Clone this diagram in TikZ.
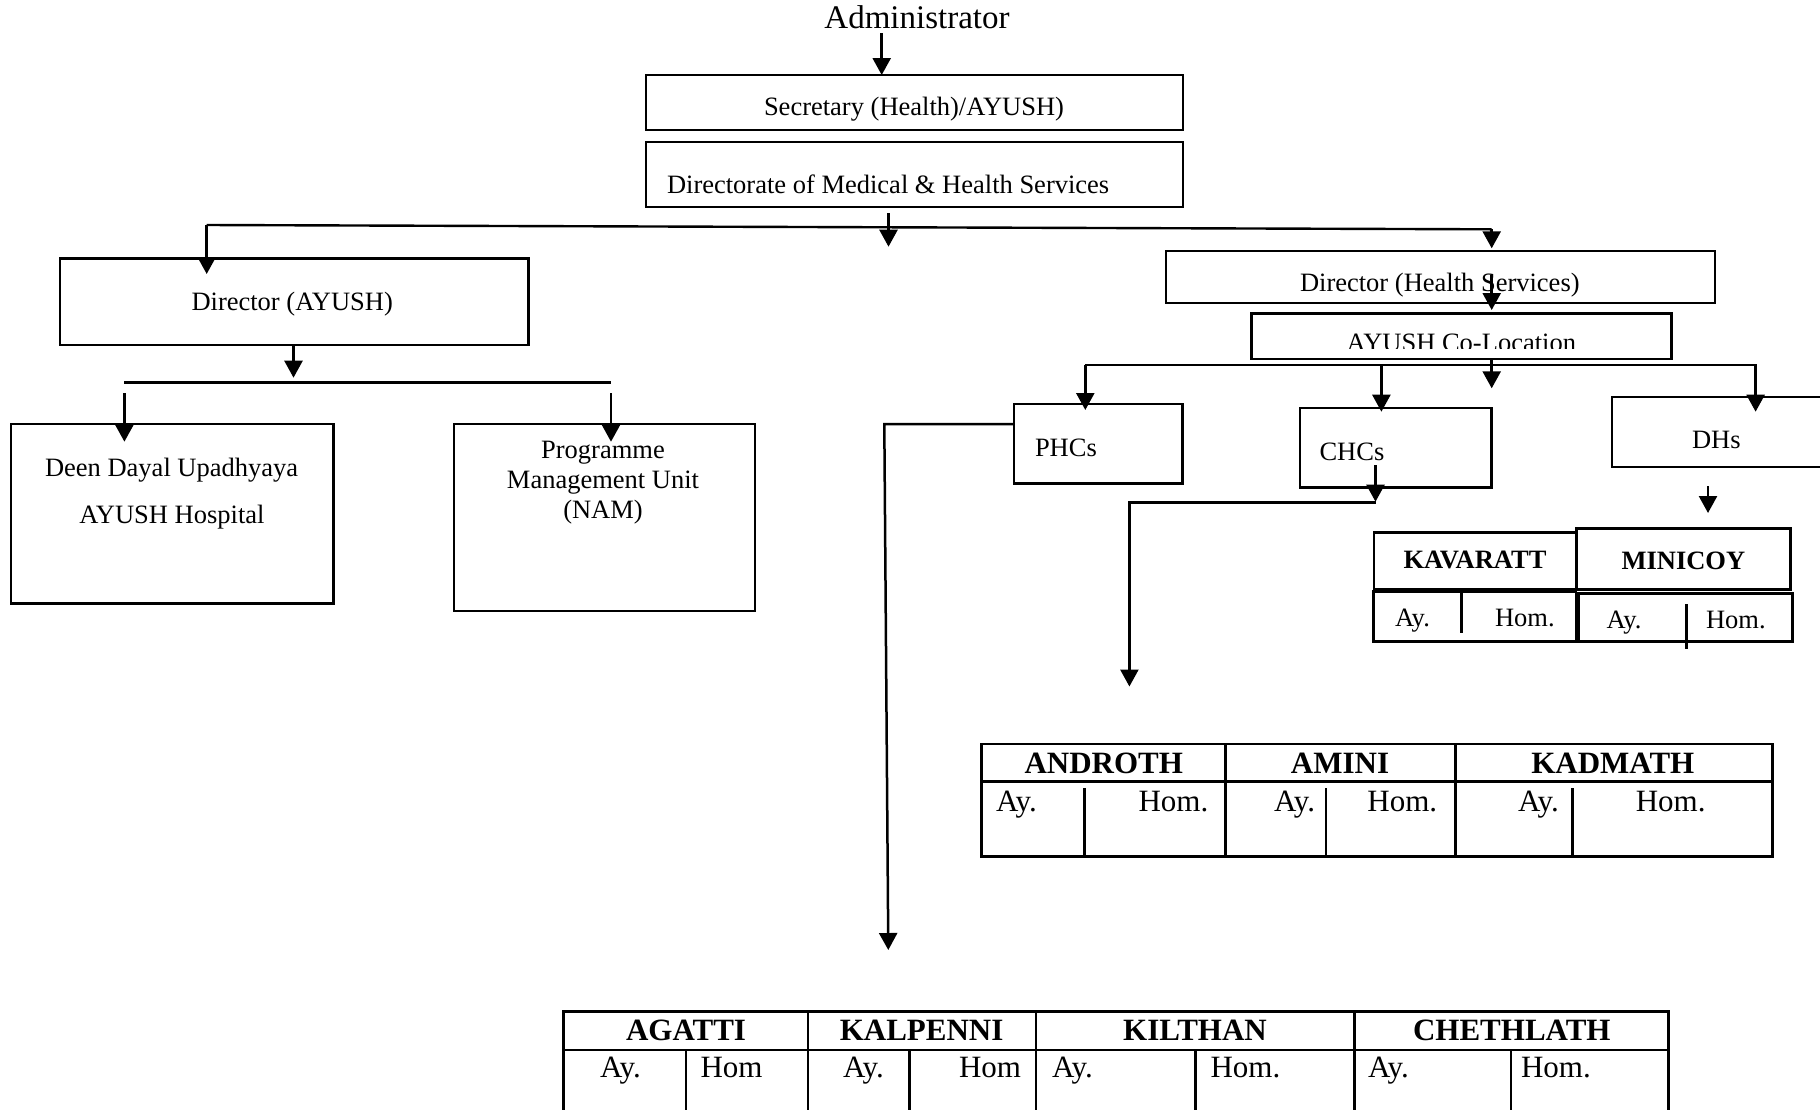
\documentclass[tikz,border=0pt]{standalone}
\usepackage{fontspec}
\setmainfont{Liberation Serif}
\usetikzlibrary{arrows.meta}
\newcommand\bxnode[5]{\node[bx, minimum width={#4-#2}, minimum height={#5-#3}] (#1) at ({(#2+#4)/2},{(#3+#5)/2}) {};}
\begin{document}
\begin{tikzpicture}[x=1pt,y=-1pt,
  ln/.style={line width=2.4pt},
  tl/.style={line width=2.8pt},
  arr/.style={line width=2.5pt,-{Triangle[width=18pt,length=17pt]}},
  txt/.style={inner sep=0pt, outer sep=0pt, font=\fontsize{26.5}{30}\selectfont},
  txtb/.style={inner sep=0pt, outer sep=0pt, font=\fontsize{26.5}{30}\selectfont\bfseries},
  big/.style={inner sep=0pt, outer sep=0pt, font=\fontsize{31}{36}\selectfont},
  bigb/.style={inner sep=0pt, outer sep=0pt, font=\fontsize{31}{36}\selectfont\bfseries},
  bx/.style={draw, line width=2.4pt, inner sep=0pt, outer sep=0pt}
]
\useasboundingbox (0,0) rectangle (1820,1109);
\fill[white] (0,0) rectangle (1820,1109);
\clip (0,0) rectangle (1820,1109);

% ---------- boxes ----------
\bxnode{sec}{646}{75}{1183}{130}
\bxnode{dir}{646}{141.7}{1183}{206.7}
\bxnode{dayush}{60}{258.3}{528.4}{345}
\bxnode{deen}{11}{424}{333.3}{603.3}
\bxnode{prog}{453.7}{424}{754.7}{610.7}
\bxnode{dhs}{1166}{250.7}{1715}{302.7}
\bxnode{coloc}{1251.5}{313.3}{1671.6}{358.8}
\bxnode{phc}{1014}{404}{1182.6}{483.3}
\bxnode{chc}{1299.7}{407.7}{1491.6}{487.3}
\bxnode{dh}{1612}{396.7}{1860}{466.7}

% ---------- texts ----------
\node[inner sep=0pt, font=\fontsize{33}{38}\selectfont, anchor=base] (adm) at (917,28.3) {Administrator};
\node[txt, anchor=base] (tsec) at (914,115.7) {Secretary (Health)/AYUSH)};
\node[txt, anchor=base west] (tdir) at (667,193) {Directorate of Medical \& Health Services};
\node[txt, anchor=base west] (tdayush) at (191.5,310) {Director (AYUSH)};
\node[txt, anchor=base] (tdeen1) at (171.6,476.7) {Deen Dayal Upadhyaya};
\node[txt, anchor=base] (tdeen2) at (171.9,523.3) {AYUSH Hospital};
\node[txt, anchor=base] (tprog1) at (603,458) {Programme};
\node[txt, anchor=base] (tprog2) at (603,488) {Management Unit};
\node[txt, anchor=base] (tprog3) at (603,518) {(NAM)};
\node[txt, anchor=base west] (tdhs) at (1300,291) {Director (Health Services)};
\begin{scope}
  \clip (1240,300) rectangle (1700,348.3);
  \node[txt, anchor=base west] (tcoloc) at (1346.6,351.5) {AYUSH Co-Location};
\end{scope}
\node[txt, anchor=base west] (tphc) at (1035,456) {PHCs};
\node[txt, anchor=base west] (tchc) at (1319.5,460) {CHCs};
\node[txt, anchor=base west] (tdh) at (1692,448) {DHs};

% ---------- connectors ----------
\coordinate (a0) at (881.7,33);
\draw[arr] (a0) -- (a0 |- sec.north);

\coordinate (L1) at (206.7,225);
\coordinate (L2) at (1491.7,229.3);
\draw[ln] (L1) -- (L2);
\coordinate (m0) at (888.5,213);
\draw[arr] (m0) -- (888.5,246.7);
\draw[arr] (L1) -- (206.7,274);
\draw[arr] (L2) -- (1491.7,248.3);
\coordinate (h0) at (1491.7,275);
\draw[arr] (h0) -- (1491.7,310);

\draw[arr] (dayush.south -| 293.5,0) -- (293.5,377.7);
\coordinate (B1) at (124.4,382.3);
\coordinate (B2) at (611,382.3);
\draw[ln] (B1) -- (B2);
\draw[arr] (124.4,393.3) -- (124.4,441.7);
\draw[arr] (611,393.3) -- (611,441.7);

\coordinate (C1) at (1085.3,365);
\coordinate (C2) at (1756.6,365);
\draw[ln] (C1) -- (C2);
\draw[arr] (C1) -- (1085.3,410);
\draw[arr] (1381.4,365) -- (1381.4,411.7);
\draw[arr] (coloc.south -| 1491.7,0) -- (1491.7,388.3);
\draw[arr] (1755.6,365) -- (1755.6,411.7);

\coordinate (P1) at (884.3,424);
\draw[arr] (phc.west |- P1) -- (P1) -- (888.3,950);

\coordinate (Q0) at (1375.5,465);
\draw[arr] (Q0) -- (1375.5,501.7);
\coordinate (Q1) at (1375.5,502.7);
\coordinate (Q2) at (1129.4,502.7);
\draw[arr] (Q1) -- (Q2) -- (1129.4,686.5);

\draw[arr] (1708,486) -- (1708,513);

% ---------- KAVARATT / MINICOY ----------
\draw[tl] (1374,532.3) rectangle (1576.7,589.3);
\draw[tl] (1373.3,591.7) rectangle (1576,641.7);
\draw[tl] (1461.7,591.7) -- (1461.7,632.7);
\draw[tl] (1576.7,528.3) rectangle (1790.7,589.3);
\draw[tl] (1578.3,593.3) rectangle (1792.7,641.7);
\draw[tl] (1686.7,604) -- (1686.7,649.3);
\node[txtb, anchor=base] (kav) at (1475,568) {KAVARATT};
\node[txtb, anchor=base] (min) at (1683.4,569.3) {MINICOY};
\node[txt, anchor=base west] (kav1) at (1395,626) {Ay.};
\node[txt, anchor=base west] (kav2) at (1495,626) {Hom.};
\node[txt, anchor=base west] (min1) at (1606.7,628.3) {Ay.};
\node[txt, anchor=base west] (min2) at (1706,628.3) {Hom.};

% ---------- ANDROTH / AMINI / KADMATH ----------
\draw[tl] (981.4,744) rectangle (1772.4,856.7);
\draw[tl] (981.4,781.7) -- (1772.4,781.7);
\draw[tl] (1225.4,744) -- (1225.4,856.7);
\draw[tl] (1455.2,744) -- (1455.2,856.7);
\draw[ln] (1084.4,788.3) -- (1084.4,856.7);
\draw[ln] (1326.2,788.3) -- (1326.2,856.7);
\draw[ln] (1572.3,788.3) -- (1572.3,856.7);
\node[bigb, anchor=base] (an) at (1103.8,773.3) {ANDROTH};
\node[bigb, anchor=base] (am) at (1340,773.3) {AMINI};
\node[bigb, anchor=base] (ka) at (1612.8,773.3) {KADMATH};
\node[big, anchor=base west] (an1) at (996,811.7) {Ay.};
\node[big, anchor=base west] (an2) at (1138.6,811.7) {Hom.};
\node[big, anchor=base west] (am1) at (1274.2,811.7) {Ay.};
\node[big, anchor=base west] (am2) at (1367.4,811.7) {Hom.};
\node[big, anchor=base west] (ka1) at (1518.1,811.7) {Ay.};
\node[big, anchor=base west] (ka2) at (1635.8,811.7) {Hom.};

% ---------- AGATTI / KALPENNI / KILTHAN / CHETHLATH ----------
\draw[tl] (563.2,1130) -- (563.2,1011.7) -- (1668.4,1011.7) -- (1668.4,1130);
\draw[tl] (563.2,1050) -- (1668.4,1050);
\draw[tl] (808,1011.7) -- (808,1130);
\draw[tl] (1036,1011.7) -- (1036,1130);
\draw[tl] (1354.5,1011.7) -- (1354.5,1130);
\draw[ln] (685.7,1050) -- (685.7,1130);
\draw[ln] (909.4,1050) -- (909.4,1130);
\draw[ln] (1195.4,1050) -- (1195.4,1130);
\draw[ln] (1510.8,1050) -- (1510.8,1130);
\node[bigb, anchor=base] (ag) at (686,1040) {AGATTI};
\node[bigb, anchor=base] (kl) at (921.6,1040) {KALPENNI};
\node[bigb, anchor=base] (ki) at (1195,1040) {KILTHAN};
\node[bigb, anchor=base] (ch) at (1511.8,1040) {CHETHLATH};
\node[big, anchor=base west] (ag1) at (600,1077) {Ay.};
\node[big, anchor=base west] (ag2) at (700.5,1077) {Hom};
\node[big, anchor=base west] (kl1) at (843,1077) {Ay.};
\node[big, anchor=base west] (kl2) at (959,1077) {Hom};
\node[big, anchor=base west] (ki1) at (1052,1077) {Ay.};
\node[big, anchor=base west] (ki2) at (1210.6,1077) {Hom.};
\node[big, anchor=base west] (ch1) at (1368,1077) {Ay.};
\node[big, anchor=base west] (ch2) at (1521,1077) {Hom.};
\end{tikzpicture}
\end{document}
